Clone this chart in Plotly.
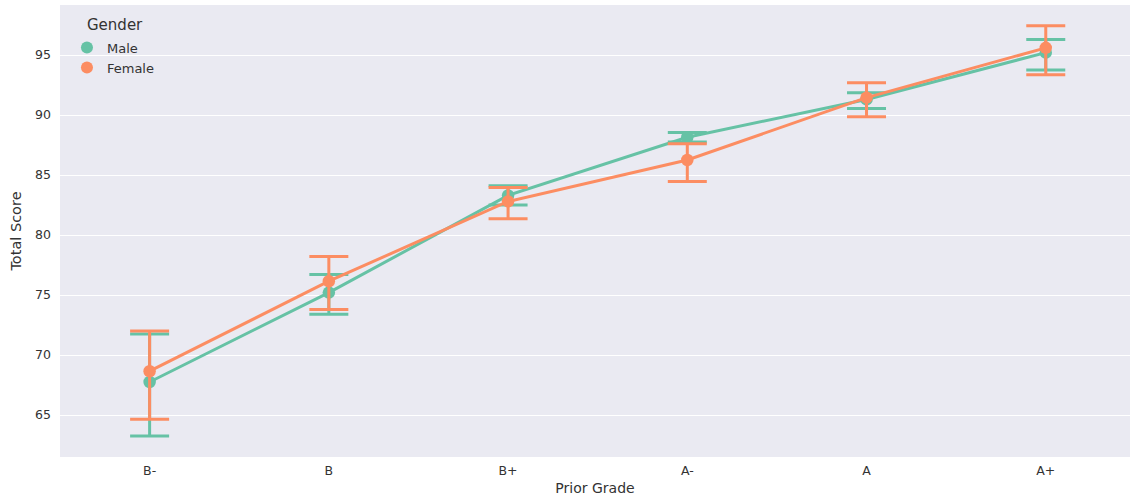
import plotly.graph_objects as go

grades = ["B-", "B", "B+", "A-", "A", "A+"]

male_mean = [67.75, 75.2, 83.3, 88.15, 91.3, 95.2]
male_low = [63.25, 73.4, 82.5, 87.75, 90.55, 93.75]
male_high = [71.75, 76.7, 84.1, 88.55, 91.85, 96.3]

female_mean = [68.65, 76.15, 82.8, 86.25, 91.45, 95.6]
female_low = [64.65, 73.8, 81.35, 84.45, 89.85, 93.35]
female_high = [72.0, 78.2, 83.95, 87.6, 92.7, 97.45]

GREEN = "#66c2a5"
ORANGE = "#fc8d62"
TXT = "#333333"

fig = go.Figure()

def add_series(name, mean, low, high, color):
    fig.add_trace(go.Scatter(
        x=grades, y=mean, mode="lines+markers", name=name,
        line=dict(color=color, width=3),
        marker=dict(color=color, size=12.5),
        error_y=dict(type="data", symmetric=False,
                     array=[h - m for h, m in zip(high, mean)],
                     arrayminus=[m - l for m, l in zip(mean, low)],
                     color=color, thickness=3, width=19.5),
        showlegend=False,
    ))

add_series("Male", male_mean, male_low, male_high, GREEN)
add_series("Female", female_mean, female_low, female_high, ORANGE)

for name, color in [("Male", GREEN), ("Female", ORANGE)]:
    fig.add_trace(go.Scatter(x=[None], y=[None], mode="markers", name=name,
                             marker=dict(color=color, size=14)))

fig.update_layout(
    width=1130, height=503,
    margin=dict(l=60, r=0, t=5, b=46),
    paper_bgcolor="white",
    plot_bgcolor="#eaeaf2",
    font=dict(family="DejaVu Sans", size=13, color=TXT),
    legend=dict(
        x=0.0065, y=0.939, xanchor="left", yanchor="top",
        bgcolor="rgba(0,0,0,0)",
        font=dict(size=13, color=TXT),
        itemsizing="constant",
        tracegroupgap=0,
    ),
    annotations=[dict(text="Gender", xref="paper", yref="paper",
                      x=0.0235, y=0.955, xanchor="left", yanchor="middle",
                      showarrow=False, font=dict(size=15, color=TXT))],
    xaxis=dict(
        title=dict(text="Prior Grade", font=dict(size=14), standoff=6),
        type="category",
        range=[-0.5, 5.47],
        showgrid=False, zeroline=False, automargin=False,
        ticks="", tickfont=dict(size=12.5), ticklabelstandoff=4,
    ),
    yaxis=dict(
        title=dict(text="Total Score", font=dict(size=14.5), standoff=10),
        range=[61.5, 99.17],
        tickvals=[65, 70, 75, 80, 85, 90, 95],
        showgrid=True, gridcolor="white", gridwidth=1,
        zeroline=False, automargin=False,
        ticks="", tickfont=dict(size=12.5), ticklabelstandoff=8,
    ),
)

fig.write_html("out.html", config={"displayModeBar": False},
               post_script="document.body.style.margin='0px';")
